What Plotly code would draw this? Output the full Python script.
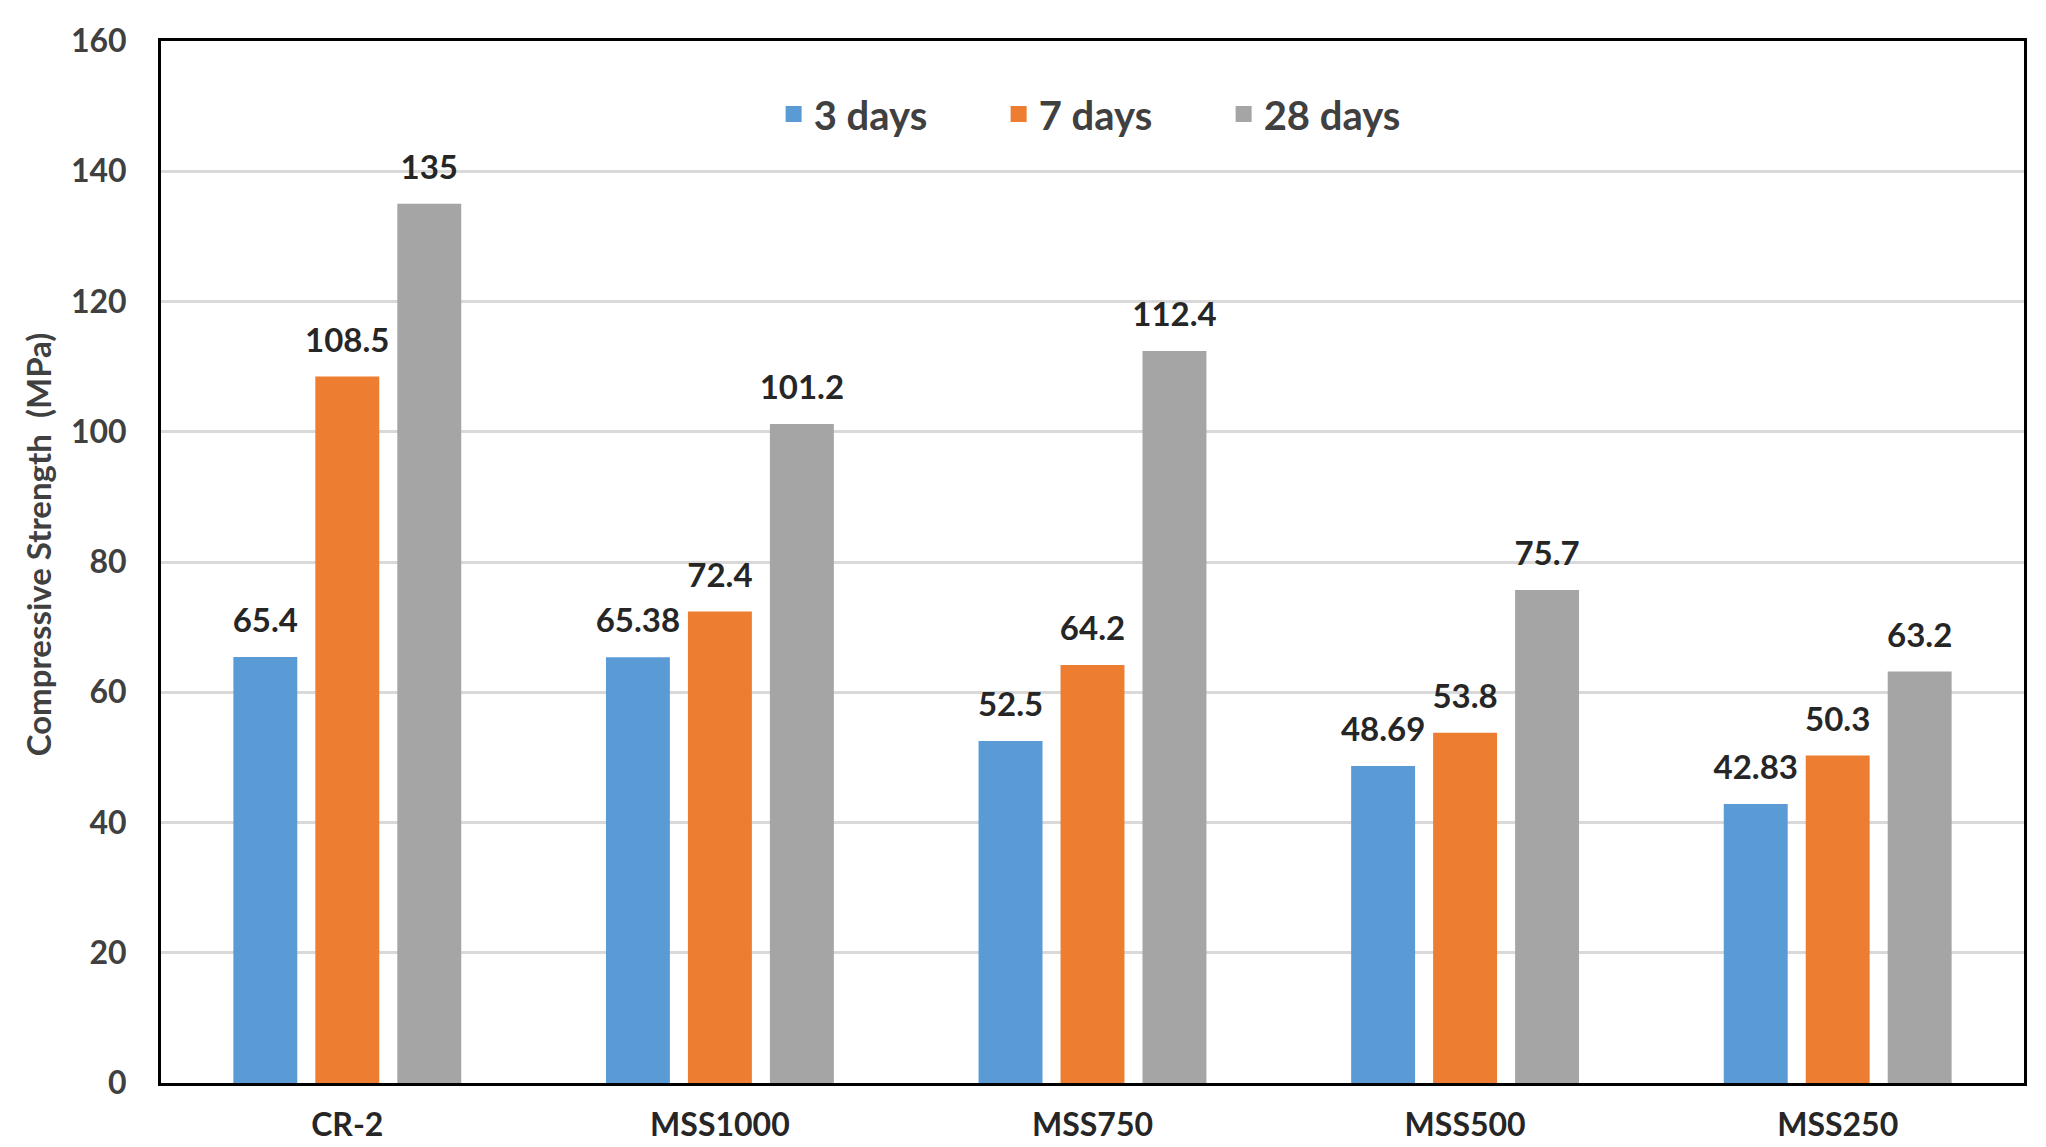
import plotly.graph_objects as go

categories = ["CR-2", "MSS1000", "MSS750", "MSS500", "MSS250"]
series_names = ["3 days", "7 days", "28 days"]
days3 = [65.4, 65.38, 52.5, 48.69, 42.83]
days7 = [108.5, 72.4, 64.2, 53.8, 50.3]
days28 = [135, 101.2, 112.4, 75.7, 63.2]
colors = ["#5B9BD5", "#ED7D31", "#A5A5A5"]
y_ticks = [0, 20, 40, 60, 80, 100, 120, 140, 160]
y_title = "Compressive Strength  (MPa)"

FONT = "Lato"
GAP = 0.34
fig = go.Figure()
series = [days3, days7, days28]
for i, (name, vals, col) in enumerate(zip(series_names, series, colors)):
    fig.add_trace(go.Bar(
        x=categories, y=vals, name=name, showlegend=False,
        offsetgroup=f"g{i}",
        marker=dict(color=col, line=dict(width=0)),
        hoverinfo="x+y",
    ))
# value labels, aligned with the grouped bars
for i, (name, vals, col) in enumerate(zip(series_names, series, colors)):
    fig.add_trace(go.Scatter(
        x=categories, y=vals, mode="markers+text", showlegend=False,
        offsetgroup=f"g{i}",
        text=[f"{v:g}" for v in vals], textposition="top center",
        textfont=dict(family=FONT, size=33, color="#262626", weight="bold"),
        marker=dict(size=25, color="rgba(0,0,0,0)"),
        cliponaxis=False, hoverinfo="skip",
    ))
# legend entries
for i, (name, col) in enumerate(zip(series_names, colors)):
    fig.add_trace(go.Scatter(
        x=[None], y=[None], mode="markers", name=name,
        offsetgroup=f"g{i}",
        marker=dict(symbol="square", size=22, color=col),
        showlegend=True,
    ))

fig.update_layout(
    width=2046, height=1147,
    margin=dict(l=153, r=30, t=17, b=64),
    paper_bgcolor="white", plot_bgcolor="white",
    barmode="group", bargap=GAP, bargroupgap=0.22,
    scattermode="group", scattergap=GAP,
    font=dict(family=FONT, color="#404040"),
    legend=dict(orientation="h", x=0.51, xanchor="center", y=0.93, yanchor="middle",
                font=dict(family=FONT, size=40, color="#404040", weight="bold"),
                itemwidth=30, entrywidth=180, bgcolor="rgba(0,0,0,0)",
                traceorder="normal"),
    showlegend=True,
    annotations=[dict(
        text=y_title, xref="paper", yref="paper", x=-0.066, y=0.517,
        xanchor="center", yanchor="middle", textangle=-90, showarrow=False,
        font=dict(family=FONT, size=33, color="#404040", weight="bold"),
    )],
)
fig.update_xaxes(
    showline=True, linecolor="black", linewidth=3, mirror=True,
    showgrid=False, ticks="", ticklabelstandoff=12,
    tickfont=dict(family=FONT, size=32, color="#262626", weight="bold"),
)
fig.update_yaxes(
    range=[0, 160], tickvals=y_ticks, ticklabeloverflow="allow",
    showline=True, linecolor="black", linewidth=3, mirror=True,
    showgrid=True, gridcolor="#D9D9D9", gridwidth=3,
    zeroline=False, ticks="", ticklabelstandoff=25,
    tickfont=dict(family=FONT, size=32, color="#404040", weight="bold"),
)

fig.write_html("out.html")
